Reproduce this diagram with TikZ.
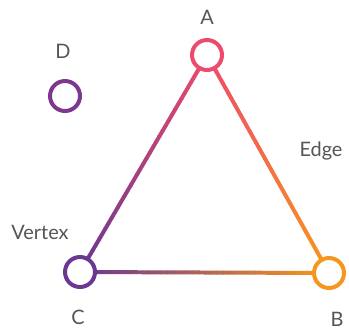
\documentclass[tikz,border=0pt]{standalone}
\usepackage{fontspec}
\setmainfont{Lato}
\usetikzlibrary{calc}
\definecolor{cA}{HTML}{EE4A6C}
\definecolor{cB}{HTML}{F7961E}
\definecolor{cC}{HTML}{6A3890}
\definecolor{cD}{HTML}{7E378E}
\definecolor{txt}{HTML}{555555}
\tikzset{
  vertex/.style={circle, draw=#1, fill=white, line width=3.4pt,
                 minimum size=0.9cm, inner sep=0pt},
  lbl/.style={text=txt, font=\fontsize{17}{17}\selectfont}
}
\begin{document}
\begin{tikzpicture}[x=0.03cm, y=-0.03cm]
  \useasboundingbox (0,0) rectangle (349,329);
  \coordinate (A) at (207,55);
  \coordinate (B) at (329,273);
  \coordinate (C) at (80,272);
  % gradient edges, drawn as short pieces
  \foreach \u/\v in {A/B, A/C, C/B}{
    \foreach \i in {0,...,39}{
      \pgfmathtruncatemacro\p{100-\i*100/39}
      \draw[line width=3.4pt, color=c\u!\p!c\v]
        ($(\u)!\i/40!(\v)$) -- ($(\u)!\i/40+1/40+0.002!(\v)$);
    }
  }
  \node[vertex=cA] (a) at (A) {};
  \node[vertex=cB] (b) at (B) {};
  \node[vertex=cC] (c) at (C) {};
  \node[vertex=cD] (d) at (65,96) {};
  \node[lbl] (la) at (207,17) {A};
  \node[lbl] (ld) at (63,51) {D};
  \node[lbl] (le) at (321,151) {Edge};
  \node[lbl] (lv) at (40,232) {Vertex};
  \node[lbl] (lc) at (78,317) {C};
  \node[lbl] (lb) at (337,319) {B};
\end{tikzpicture}
\end{document}
